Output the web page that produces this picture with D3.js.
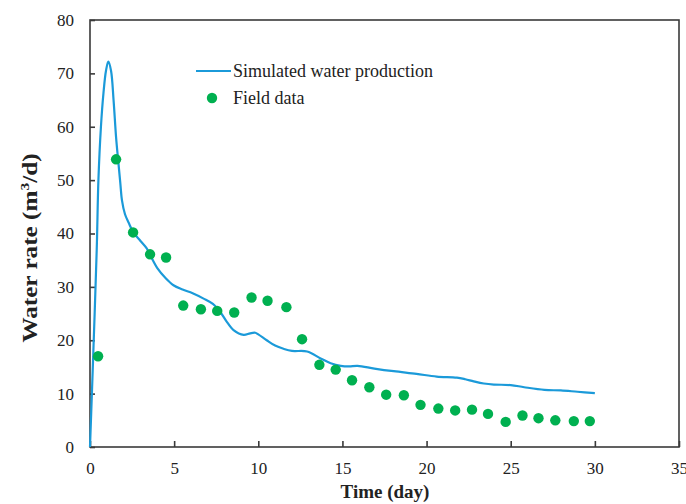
<!DOCTYPE html>
<html>
<head>
<meta charset="utf-8">
<script src="https://cdn.jsdelivr.net/npm/d3@7"></script>
<style>
  body { margin: 0; background: #fff; }
  svg text { font-family: "Times New Roman", "Liberation Serif", "DejaVu Serif", serif; fill: #222; }
</style>
</head>
<body>
<div id="chart"></div>
<script>
// simulated water production (day, m3/d)
const simDays = [0, 0.2, 0.4, 0.5, 0.65, 0.8, 0.95, 1.09, 1.25, 1.4, 1.55, 1.68, 1.8, 1.9, 2.08, 2.3, 2.58, 3.0, 3.37, 3.6, 4.0, 4.5, 4.96, 5.5, 6.1, 6.75, 7.3, 7.74, 8.1, 8.53, 9.13, 9.52, 9.82, 10.0, 10.5, 11.0, 11.5, 12.0, 12.9, 13.7, 14.3, 14.9, 15.4, 15.9, 16.9, 18.05, 19.4, 20.6, 21.8, 22.3, 22.8, 23.4, 24.0, 25.0, 25.8, 27.0, 27.98, 28.97, 30.0]
const simRate = [0, 18, 37, 50, 60, 66.3, 70.5, 72.2, 70.5, 65, 58, 53.5, 49.5, 46.2, 43.6, 42, 40.2, 38.6, 37.2, 35.8, 33.5, 31.6, 30.3, 29.5, 28.8, 27.8, 26.8, 25.3, 23.6, 21.9, 21.0, 21.3, 21.4, 21.1, 20.0, 19.0, 18.4, 18.0, 17.9, 16.6, 15.7, 15.2, 15.1, 15.2, 14.7, 14.2, 13.7, 13.2, 13.0, 12.7, 12.3, 11.9, 11.7, 11.6, 11.2, 10.7, 10.6, 10.35, 10.1]

// field data
const fieldDays = [0.48, 1.55, 2.56, 3.57, 4.52, 5.54, 6.59, 7.56, 8.57, 9.6, 10.55, 11.67, 12.6, 13.63, 14.6, 15.57, 16.6, 17.6, 18.65, 19.64, 20.7, 21.7, 22.7, 23.65, 24.7, 25.7, 26.65, 27.65, 28.75, 29.7]
const fieldRate = [17.0, 53.9, 40.2, 36.1, 35.5, 26.5, 25.8, 25.5, 25.2, 28.0, 27.4, 26.2, 20.2, 15.4, 14.5, 12.5, 11.2, 9.8, 9.7, 7.9, 7.2, 6.85, 7.0, 6.2, 4.7, 5.9, 5.4, 5.0, 4.85, 4.85]

const xTicks = [0, 5, 10, 15, 20, 25, 30, 35]
const yTicks = [0, 10, 20, 30, 40, 50, 60, 70, 80]
const seriesNames = ["Simulated water production", "Field data"]

const W = 686, H = 504
const margin = {top: 20, right: 7, bottom: 57, left: 90}
const lineColor = "#1b9ad9", dotColor = "#00b050", axisColor = "#3a3a3a"
const serif = "'Times New Roman', 'Liberation Serif', serif"

let svg = d3.select("#chart").append("svg")
  .attr("width", W)
  .attr("height", H)

let x = d3.scaleLinear().domain([0, 35]).range([margin.left, W - margin.right])
let y = d3.scaleLinear().domain([0, 80]).range([H - margin.bottom, margin.top])

// frame
svg.append("rect")
  .attr("x", x(0))
  .attr("y", y(80))
  .attr("width", x(35) - x(0))
  .attr("height", y(0) - y(80))
  .attr("fill", "none")
  .attr("stroke", axisColor)
  .attr("stroke-width", 1.6)

// x axis, ticks inward
let xAxis = svg.append("g")
  .attr("transform", "translate(0," + y(0) + ")")
  .call(d3.axisBottom(x).tickValues(xTicks).tickSize(-6).tickPadding(14.5))
xAxis.attr("font-family", serif)
xAxis.select(".domain").remove()
xAxis.selectAll("line").attr("stroke", axisColor).attr("stroke-width", 1.6)
xAxis.selectAll("text")
  .style("font-size", "17px")
  .style("font-family", serif)
  .attr("fill", "#222")

// y axis, ticks inward
let yAxis = svg.append("g")
  .attr("transform", "translate(" + x(0) + ",0)")
  .call(d3.axisLeft(y).tickValues(yTicks).tickSize(-5).tickPadding(16))
yAxis.attr("font-family", serif)
yAxis.select(".domain").remove()
yAxis.selectAll("line").attr("stroke", axisColor).attr("stroke-width", 1.6)
yAxis.selectAll("text")
  .style("font-size", "17px")
  .style("font-family", serif)
  .attr("fill", "#222")

// simulated line
let simData = simDays.map((d, i) => [d, simRate[i]])
svg.append("path")
  .datum(simData)
  .attr("fill", "none")
  .attr("stroke", lineColor)
  .attr("stroke-width", 2.2)
  .attr("d", d3.line().x(d => x(d[0])).y(d => y(d[1])).curve(d3.curveCatmullRom.alpha(0.5)))

// field points
svg.selectAll(".field")
  .data(fieldDays)
  .enter()
  .append("circle")
  .attr("class", "field")
  .attr("cx", d => x(d))
  .attr("cy", (d, i) => y(fieldRate[i]))
  .attr("r", 5.2)
  .attr("fill", dotColor)

// legend
svg.append("line")
  .attr("x1", 196).attr("x2", 231)
  .attr("y1", 71).attr("y2", 71)
  .attr("stroke", lineColor)
  .attr("stroke-width", 2.2)
svg.append("text")
  .attr("x", 233).attr("y", 77)
  .style("font-family", serif)
  .style("font-size", "18px")
  .text(seriesNames[0])
svg.append("circle")
  .attr("cx", 212).attr("cy", 98)
  .attr("r", 5.2)
  .attr("fill", dotColor)
svg.append("text")
  .attr("x", 233).attr("y", 104)
  .style("font-family", serif)
  .style("font-size", "18px")
  .text(seriesNames[1])

// axis titles
svg.append("text")
  .attr("x", 385).attr("y", 498)
  .attr("font-weight", "bold")
  .style("font-family", serif)
  .style("text-anchor", "middle")
  .style("font-size", "19px")
  .text("Time (day)")

let yt = svg.append("text")
  .attr("transform", "translate(37,248) rotate(-90) scale(1.2,1)")
  .attr("font-weight", "bold")
  .style("font-family", serif)
  .style("text-anchor", "middle")
  .style("font-size", "21px")
yt.append("tspan").text("Water rate (m")
yt.append("tspan").text("3").attr("dy", -8).style("font-size", "13px")
yt.append("tspan").text("/d)").attr("dy", 8)
</script>
</body>
</html>
